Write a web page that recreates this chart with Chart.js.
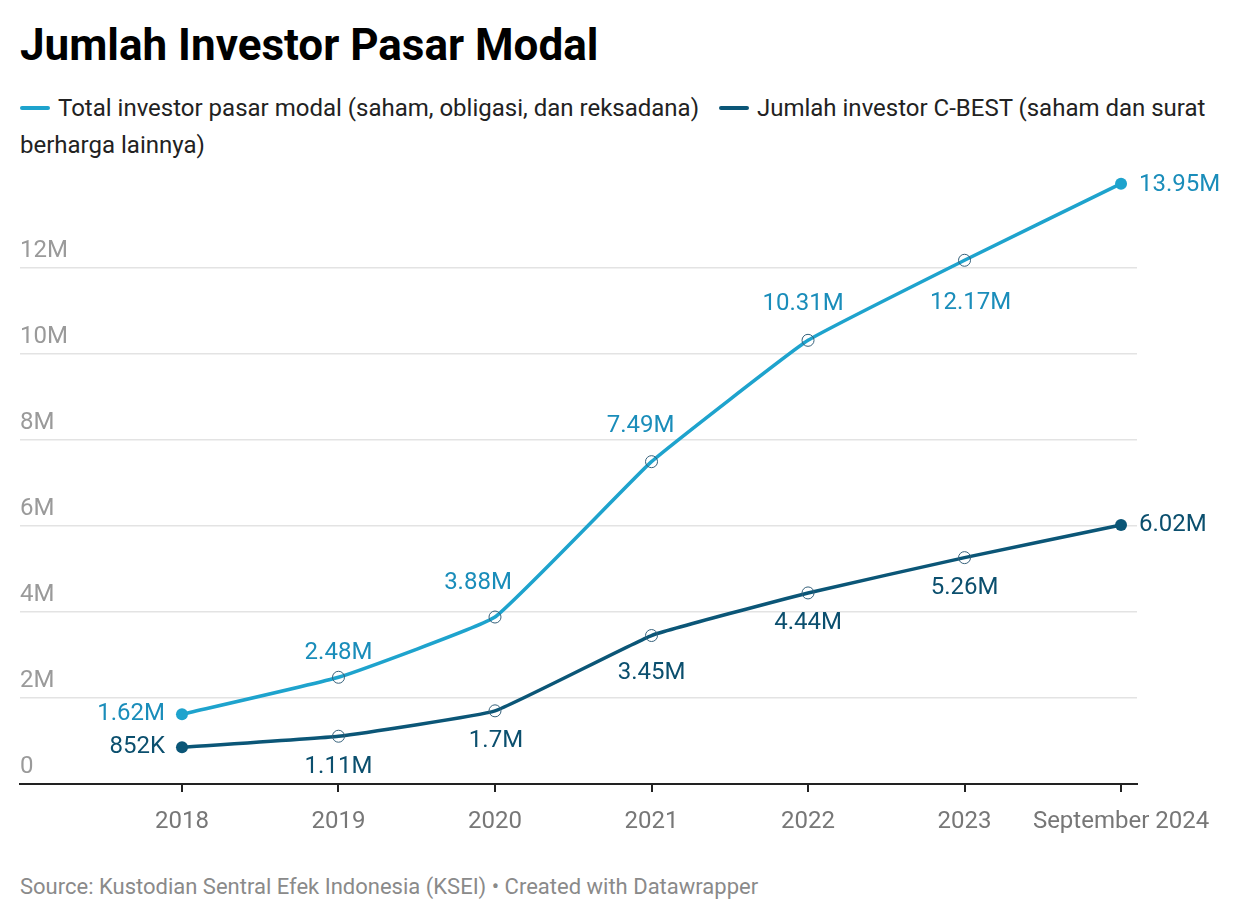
<!DOCTYPE html>
<html>
<head>
<meta charset="utf-8">
<script src="https://cdn.jsdelivr.net/npm/chart.js@4.4.1/dist/chart.umd.min.js"></script>
<style>
  html, body { margin: 0; padding: 0; background: #fff; }
  body { width: 1240px; height: 922px; position: relative; overflow: hidden; font-family: Roboto, "Noto Sans", sans-serif; }
  #title { position: absolute; left: 20px; top: 19px; font-size: 44px; line-height: 52px; font-weight: 700; color: #000; }
  #legend { position: absolute; left: 20px; top: 90px; width: 1205px; font-size: 24px; line-height: 37px; color: #222; }
  .sw { display: inline-block; width: 30px; height: 4px; border-radius: 2px; vertical-align: middle; margin-right: 8px; position: relative; top: -2px; }
  .item { margin-right: 14px; }
  #source { position: absolute; left: 20px; top: 874px; font-size: 22px; color: #8a8a8a; }
  #wrap { position: absolute; left: 0; top: 0; width: 1240px; height: 922px; }
</style>
</head>
<body>
<div id="title">Jumlah Investor Pasar Modal</div>
<div id="legend"><span class="item"><span class="sw" style="background:#1ea3cd"></span>Total investor pasar modal (saham, obligasi, dan reksadana)</span> <span class="sw" style="background:#0b5677"></span>Jumlah investor C-BEST (saham dan surat berharga lainnya)</div>
<div id="source">Source: Kustodian Sentral Efek Indonesia (KSEI) • Created with Datawrapper</div>
<div id="wrap"><canvas id="c" width="1240" height="922"></canvas></div>
<script>
const categories = ["2018", "2019", "2020", "2021", "2022", "2023", "September 2024"];
const totalInvestor = [1.62, 2.48, 3.88, 7.49, 10.31, 12.17, 13.95];
const cbestInvestor = [0.852, 1.11, 1.7, 3.45, 4.44, 5.26, 6.02];
const totalLabels = ["1.62M", "2.48M", "3.88M", "7.49M", "10.31M", "12.17M", "13.95M"];
const cbestLabels = ["852K", "1.11M", "1.7M", "3.45M", "4.44M", "5.26M", "6.02M"];
const yTicks = [0, 2, 4, 6, 8, 10, 12];

// label placement styles: [mode, dx, dy]
const totalPlace = [["left",-17,0],["c",0,-24],["c",-17,-34],["c",-11,-36],["c",-5,-36],["c",6,43],["right",18,1]];
const cbestPlace = [["left",-17,0],["c",0,31],["c",1,30],["c",0,37],["c",0,30],["c",0,30],["right",18,0]];

const COL_TOTAL = "#1ea3cd", COL_CBEST = "#0b5677";
const LBL_TOTAL = "#1a8dba", LBL_CBEST = "#0b4f6e";

const xs = categories.map((_, i) => i);
function pts(arr) { return arr.map((v, i) => ({ x: xs[i], y: v })); }

function isEnd(ctx) { return ctx.dataIndex === 0 || ctx.dataIndex === categories.length - 1; }
function pointStyle(color) {
  return {
    pointRadius: 6,
    pointHoverRadius: 6,
    pointBackgroundColor: ctx => isEnd(ctx) ? color : "rgba(0,0,0,0)",
    pointBorderColor: ctx => isEnd(ctx) ? color : "#35607a",
    pointBorderWidth: ctx => isEnd(ctx) ? 0 : 1
  };
}

const labelPlugin = {
  id: "dlabels",
  afterDatasetsDraw(chart) {
    const ctx = chart.ctx;
    ctx.save();
    ctx.font = "24px Roboto";
    ctx.textBaseline = "middle";
    const sets = [[0, totalLabels, totalPlace, LBL_TOTAL], [1, cbestLabels, cbestPlace, LBL_CBEST]];
    sets.forEach(([di, labels, place, col]) => {
      const meta = chart.getDatasetMeta(di);
      meta.data.forEach((el, i) => {
        const [mode, dx, dy] = place[i];
        ctx.fillStyle = col;
        ctx.textAlign = mode === "left" ? "right" : (mode === "right" ? "left" : "center");
        ctx.fillText(labels[i], el.x + dx, el.y + dy);
      });
    });
    ctx.restore();
  }
};

new Chart(document.getElementById("c"), {
  type: "line",
  data: {
    datasets: [
      Object.assign({ label: "Total investor pasar modal (saham, obligasi, dan reksadana)", data: pts(totalInvestor), borderColor: COL_TOTAL, borderWidth: 3.5, tension: 0.1 }, pointStyle(COL_TOTAL)),
      Object.assign({ label: "Jumlah investor C-BEST (saham dan surat berharga lainnya)", data: pts(cbestInvestor), borderColor: COL_CBEST, borderWidth: 3.5, tension: 0.1 }, pointStyle(COL_CBEST))
    ]
  },
  options: {
    responsive: false,
    animation: false,
    clip: false,
    layout: { padding: { left: 20, right: 103, top: 160, bottom: 0 } },
    plugins: { legend: { display: false }, tooltip: { enabled: false } },
    scales: {
      x: {
        type: "linear",
        min: -1.035,
        max: 6.102,
        afterBuildTicks: s => { s.ticks = xs.map(v => ({ value: v })); },
        afterFit: s => { s.height = 138; },
        ticks: {
          callback: v => categories[v],
          color: "#777",
          font: { size: 24, family: "Roboto" },
          padding: 16,
          maxRotation: 0,
          autoSkip: false
        },
        grid: { display: true, drawOnChartArea: false, drawTicks: true, tickLength: 8, color: "#222", lineWidth: 2 },
        border: { display: true, color: "#222", width: 2 }
      },
      y: {
        min: 0,
        max: 14.5,
        afterBuildTicks: s => { s.ticks = yTicks.map(v => ({ value: v })); },
        afterFit: s => { s.width = 0; },
        ticks: {
          mirror: true,
          padding: 0,
          labelOffset: -17,
          callback: v => v === 0 ? "0" : v + "M",
          color: "#9a9a9a",
          font: { size: 24, family: "Roboto" }
        },
        grid: { drawTicks: false, color: ctx => ctx.tick && ctx.tick.value === 0 ? "rgba(0,0,0,0)" : "#e3e3e3", lineWidth: 1.5 },
        border: { display: false }
      }
    }
  },
  plugins: [labelPlugin]
});
</script>
</body>
</html>
